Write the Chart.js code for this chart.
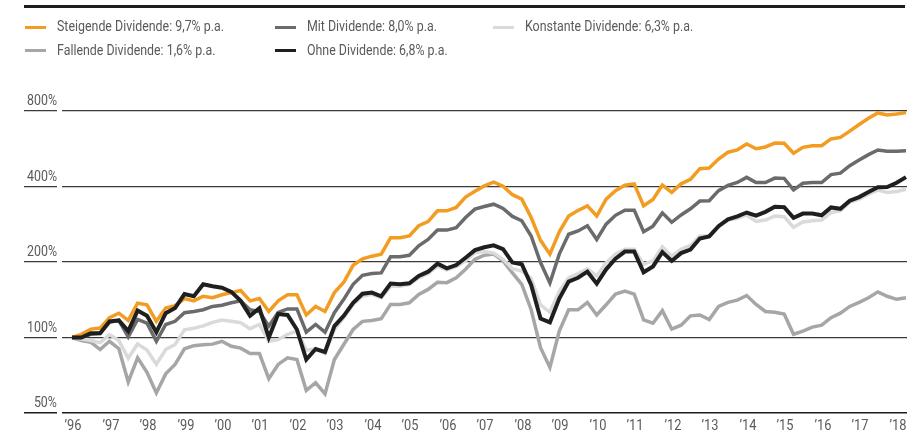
<!DOCTYPE html>
<html>
<head>
<meta charset="utf-8">
<script src="https://cdn.jsdelivr.net/npm/chart.js@4.4.1/dist/chart.umd.min.js"></script>
<style>
  html, body { margin: 0; padding: 0; background: #ffffff; }
  #wrap { position: relative; width: 924px; height: 432px; overflow: hidden; }
  #topline { position: absolute; left: 24px; top: 5px; width: 881px; height: 3px; background: #1d1d1b; }
  canvas { position: absolute; left: 0; top: 0; }
  .txt { position: absolute; white-space: nowrap; color: #5a5a5a;
         font-family: "Roboto", "Liberation Sans", sans-serif; font-weight: 400; }
  .lg { display: flex; align-items: center; height: 18px; line-height: 18px; font-size: 14.5px; }
  .sw { width: 21px; height: 3px; margin-right: 11px; flex: none; }
  .lgt { display: inline-block; transform-origin: left center; }
  .ytk { left: 0; width: 57px; text-align: right; font-size: 14.5px; height: 16px; line-height: 16px; }
  .ytk span, .xtk span { display: inline-block; }
  .ytk span { transform-origin: right center; }
  .xtk { width: 60px; text-align: center; font-size: 15px; height: 16px; line-height: 16px; }
  .xtk span { transform-origin: center center; }
</style>
</head>
<body>
<div id="wrap">
  <div id="topline"></div>
  <canvas id="c" width="924" height="432"></canvas>
  <div id="legend"></div>
  <div id="axislabels"></div>
</div>
<script>
// ---- data (quarterly, index chart, start = 100 %) ----
const YEARS = [1996,1997,1998,1999,2000,2001,2002,2003,2004,2005,2006,2007,2008,2009,2010,2011,2012,2013,2014,2015,2016,2017,2018];
const QUARTERS = Array.from({ length: 90 }, (_, i) => 1996 + i / 4);
const Y_TICKS = [50, 100, 200, 400, 800];

const SERIES_NAMES = [
  'Steigende Dividende: 9,7% p.a.',
  'Mit Dividende: 8,0% p.a.',
  'Konstante Dividende: 6,3% p.a.',
  'Fallende Dividende: 1,6% p.a.',
  'Ohne Dividende: 6,8% p.a.'
];

const steigende = [100,103,108,109,120,125,117,137,135,116,
  131,134,143,140,146,144,148,151,154,140,
  143,127,140,148,148,123,133,127,151,166,
  194,206,211,215,250,250,254,279,290,320,
  320,330,363,383,402,416,401,371,356,301,
  244,215,264,305,321,335,305,356,385,405,
  410,335,355,405,379,410,427,471,474,515,
  548,560,591,566,575,596,595,543,573,582,
  582,619,628,665,707,749,786,772,779,789];

const mit = [100,100,103,104,115,117,100.5,118,114,96.6,
  112.7,116,125.5,127,129,133,134.5,137.5,140,129,
  127,111,126,130,130,105,112.7,105,125.5,142,
  163,177,180,181,210,210,212.6,232,246,268,
  268,274,301,325,333,340,327,304,292,254,
  199,165,215,258,266,279,246,283,307,322,
  322,264,278,314,288,308,326,350,351,385,
  404,415,435,415,415,432,431,388,412,415,
  415,446,452,484,510,536,559,553,553,555];

const konstante = [100,98.5,97.3,95.4,102.7,97.3,82.6,94.2,89.2,78.2,
  89.6,93.8,107.3,108.8,111.3,114.9,117.5,116,114.5,108.4,
  112.7,96.6,98,103,106,89,90,86.3,107.6,120,
  135.5,146,148.6,144,160,160,163,173,180,192.6,
  186,191.5,202,218,220,217,205,188,184,172,
  135,126,153,173,180,188,176,199,215,225,
  225,196,202,230,211,225,233,254,254,279,
  294,299,308,290,294,305,303,275,289,292,
  294,315,320,346,356,373,387,379,382,390];

const fallende = [100,97.3,95.8,89.5,96.6,90.2,66.5,83,72.7,60.1,
  71.6,78.1,90.2,92.8,93.6,94.1,96.6,92.3,90.7,86.3,
  86.3,68.5,78.1,83,81.7,61.5,66,59.6,81.7,93.8,
  107.6,116,117,118.8,135.5,135.5,137.5,148.6,155.5,166,
  165.5,173,187,205,213,215,202,181,163,129,
  91,76,106,129,129,138,123,135,149,153,
  149,117.5,114,128,108,112,122,123,118,133,
  138,141,147,135.5,127,126,124,103,106,110,
  112,120,125,133,138,144,152,146,142,144];

const ohne = [100,100,104,104,116,117,106,128,122,105,
  125,131,149,146,163,160,158,152,140,122,
  131,100,124,123,107.6,81.7,90,87.6,111,122,
  137.5,149.5,151,146,164,163,164.4,176,183,197,
  188.6,194.5,208,223,229,233,225,199,196,162,
  119,115,143,167,173,183,164,187,206,220,
  220,182,192,219,202,217,224,248,253,278,
  296,304,315,306,317,332,331,300,312,312,
  307,330,326,351,363,380,397,398,414,436];

// ---- styles ----
const COLORS = { steigende: '#F39C22', mit: '#6b6b6d', konstante: '#dadada', fallende: '#a6a6a8', ohne: '#1f1f1e' };

// legend (HTML, real text)
const legendItems = [
  { name: SERIES_NAMES[0], color: COLORS.steigende, left: 25,  top: 18 },
  { name: SERIES_NAMES[1], color: COLORS.mit,       left: 275, top: 18 },
  { name: SERIES_NAMES[2], color: COLORS.konstante, left: 493, top: 18 },
  { name: SERIES_NAMES[3], color: COLORS.fallende,  left: 25,  top: 41.5 },
  { name: SERIES_NAMES[4], color: COLORS.ohne,      left: 275, top: 41.5 }
];
const legend = document.getElementById('legend');
const legendTexts = [];
legendItems.forEach(it => {
  const d = document.createElement('div');
  d.className = 'txt lg';
  d.style.left = it.left + 'px';
  d.style.top = it.top + 'px';
  const s = document.createElement('span');
  s.className = 'sw';
  s.style.background = it.color;
  const t = document.createElement('span');
  t.className = 'lgt';
  t.textContent = it.name;
  d.appendChild(s); d.appendChild(t);
  legend.appendChild(d);
  legendTexts.push(t);
});
// condensed look: scale horizontally so the first legend entry spans ~167px like the original
const natural = legendTexts[0].getBoundingClientRect().width || 195;
const K = Math.min(1, 167 / natural);
legendTexts.forEach(t => { t.style.transform = 'scaleX(' + K + ')'; });

const X_MIN = 1995.733;
const X_MAX = 2018.277;

const axisLabelPlugin = {
  id: 'htmlAxisLabels',
  afterDraw(chart) {
    const host = document.getElementById('axislabels');
    host.innerHTML = '';
    const ys = chart.scales.y, xs = chart.scales.x;
    Y_TICKS.forEach(v => {
      const d = document.createElement('div');
      d.className = 'txt ytk';
      d.style.top = (ys.getPixelForValue(v) - 10 - 8) + 'px';
      const s = document.createElement('span');
      s.textContent = v + '%';
      s.style.transform = 'scaleX(' + K + ')';
      d.appendChild(s);
      host.appendChild(d);
    });
    YEARS.forEach(yr => {
      const d = document.createElement('div');
      d.className = 'txt xtk';
      d.style.left = (xs.getPixelForValue(yr) + 1 - 30) + 'px';
      d.style.top = (chart.chartArea.bottom + 4) + 'px';
      const s = document.createElement('span');
      s.textContent = '\u2019' + String(yr).slice(2);
      s.style.transform = 'scaleX(' + K + ')';
      d.appendChild(s);
      host.appendChild(d);
    });
  }
};

new Chart(document.getElementById('c'), {
  type: 'line',
  data: {
    labels: QUARTERS,
    datasets: [
      { label: SERIES_NAMES[4], data: ohne,      borderColor: COLORS.ohne,      borderWidth: 4 },
      { label: SERIES_NAMES[0], data: steigende, borderColor: COLORS.steigende, borderWidth: 3.5 },
      { label: SERIES_NAMES[1], data: mit,       borderColor: COLORS.mit,       borderWidth: 3.5 },
      { label: SERIES_NAMES[2], data: konstante, borderColor: COLORS.konstante, borderWidth: 3.5 },
      { label: SERIES_NAMES[3], data: fallende,  borderColor: COLORS.fallende,  borderWidth: 3.5 }
    ]
  },
  plugins: [axisLabelPlugin],
  options: {
    responsive: false,
    animation: false,
    devicePixelRatio: 1,
    layout: { padding: { top: 111, right: 17, bottom: 0, left: 0 } },
    plugins: { legend: { display: false }, tooltip: { enabled: false } },
    elements: {
      point: { radius: 0, hoverRadius: 0 },
      line: { tension: 0, fill: false, borderJoinStyle: 'miter', borderCapStyle: 'butt' }
    },
    scales: {
      x: {
        type: 'linear',
        min: X_MIN,
        max: X_MAX,
        border: { display: false },
        grid: { display: false, drawTicks: false, tickLength: 0 },
        afterBuildTicks: s => { s.ticks = YEARS.map(v => ({ value: v })); },
        afterFit: s => { s.height = 19; },
        ticks: { display: false, autoSkip: false, maxRotation: 0 }
      },
      y: {
        type: 'logarithmic',
        min: 50,
        max: 800,
        border: { display: false },
        afterBuildTicks: s => { s.ticks = Y_TICKS.map(v => ({ value: v })); },
        afterFit: s => { s.width = 62; },
        grid: {
          drawTicks: true,
          tickLength: 38,
          tickBorderDash: [33, 5],
          color: c => (c.tick && c.tick.value === 50) ? '#1d1d1b' : '#3a3a3a',
          tickColor: c => (c.tick && c.tick.value === 50) ? '#1d1d1b' : '#3a3a3a',
          lineWidth: c => (c.tick && c.tick.value === 50) ? 1.6 : 1.2,
          tickWidth: c => (c.tick && c.tick.value === 50) ? 1.6 : 1.2
        },
        ticks: { display: false, autoSkip: false }
      }
    }
  }
});
</script>
</body>
</html>
